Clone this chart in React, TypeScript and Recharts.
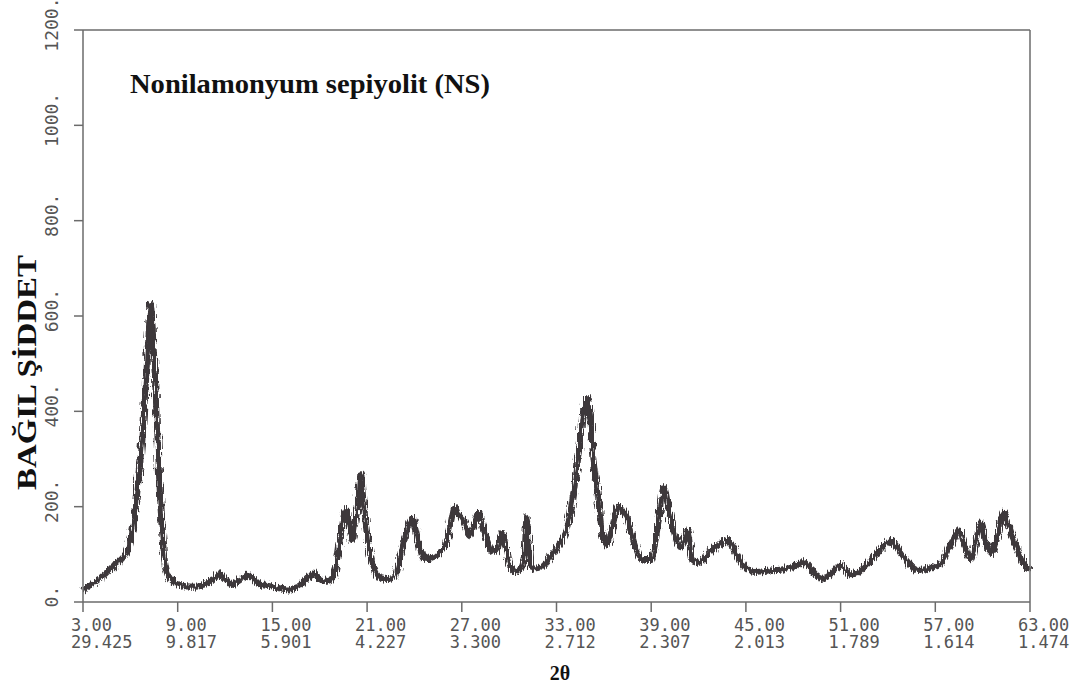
import { Line, LineChart, XAxis, YAxis } from "recharts";

// 2θ positions (deg) and relative intensity
const twoTheta = [
  3.0, 3.5, 4.0, 4.5, 5.0, 5.5, 5.9, 6.2, 6.5, 6.8, 7.05, 7.2, 7.3, 7.4, 7.6,
  7.8, 8.0, 8.2, 8.5, 9.0, 9.5, 10.0, 10.6, 11.2, 11.7, 12.0, 12.4, 12.9, 13.4,
  13.8, 14.2, 15.0, 15.6, 16.1, 16.6, 17.0, 17.4, 17.6, 17.9, 18.2, 18.6, 18.9,
  19.1, 19.3, 19.55, 19.7, 19.85, 20.05, 20.25, 20.45, 20.6, 20.75, 20.9, 21.2,
  21.5, 21.8, 22.3, 22.7, 23.0, 23.3, 23.6, 23.85, 24.1, 24.3, 24.6, 25.0, 25.5,
  26.0, 26.3, 26.55, 26.75, 27.0, 27.3, 27.5, 27.8, 28.05, 28.3, 28.6, 29.0,
  29.3, 29.55, 29.75, 29.95, 30.4, 30.8, 31.0, 31.1, 31.25, 31.4, 32.0, 32.6,
  33.2, 33.7, 34.1, 34.4, 34.7, 34.95, 35.15, 35.3, 35.6, 35.9, 36.2, 36.5,
  36.9, 37.2, 37.5, 37.9, 38.5, 39.0, 39.4, 39.8, 40.2, 40.85, 41.1, 41.3,
  41.6, 42.0, 42.7, 43.3, 43.8, 44.5, 45.0, 45.5, 46.2, 46.8, 47.3, 47.8, 48.3,
  48.65, 49.3, 49.85, 50.5, 51.0, 51.6, 52.0, 52.5, 53.35, 53.8, 54.2, 54.6,
  55.0, 55.9, 56.7, 57.35, 58.0, 58.5, 58.9, 59.25, 59.55, 59.9, 60.3, 60.6,
  60.95, 61.3, 61.8, 62.3, 62.9, 63.0,
];
const intensity = [
  25, 35, 48, 62, 78, 92, 115, 160, 250, 360, 500, 585, 625, 580, 440,
  280, 150, 85, 50, 38, 33, 32, 35, 46, 58, 50, 38, 45, 55,
  48, 37, 32, 28, 26, 32, 42, 56, 60, 52, 44, 45, 55,
  90, 135, 185, 193, 165, 130, 165, 215, 270, 220, 170, 100,
  65, 52, 48, 52, 80, 120, 160, 175, 150, 120, 90, 92, 100,
  125, 165, 200, 185, 175, 155, 140, 165, 185, 165, 130, 105,
  115, 145, 120, 88, 63, 75, 120, 178, 120, 70, 72, 95,
  122, 160, 235, 313, 395, 428, 380, 315, 230, 145, 120, 152,
  200, 190, 175, 125, 88, 88, 155, 240, 180, 115, 130, 150,
  90, 82, 105, 120, 130, 95, 72, 63, 65, 67, 68, 72, 78,
  84, 60, 48, 63, 78, 58, 60, 73, 103, 120, 128, 115,
  95, 67, 71, 80, 122, 150, 115, 88, 125, 165, 115, 103,
  138, 187, 145, 103, 71, 75,
];

const xTicks = [3, 9, 15, 21, 27, 33, 39, 45, 51, 57, 63];
const dSpacing = [
  "29.425", "9.817", "5.901", "4.227", "3.300", "2.712",
  "2.307", "2.013", "1.789", "1.614", "1.474",
];
const yTicks = [0, 200, 400, 600, 800, 1000, 1200];

const data = twoTheta.map((t, i) => ({ t, y: intensity[i] }));

const W = 1087;
const H = 693;
const FRAME = "#6b6b6b";
const INK = "#3c373a";
const TICK_TEXT = "#555";
const MONO = "'DejaVu Sans Mono', 'Liberation Mono', monospace";
const SERIF = "'Liberation Serif', 'Times New Roman', serif";
const CHAR_W = 18 * 0.602;

// 2θ on the first line, d-spacing (Å) right under it
function BottomTick({ x, y, payload }: any) {
  const i = xTicks.indexOf(payload.value);
  return (
    <text fill={TICK_TEXT} fontFamily={MONO} fontSize={17}>
      <tspan x={x - 12} y={y + 19}>{payload.value.toFixed(2)}</tspan>
      <tspan x={x - 12} y={y + 36}>{dSpacing[i]}</tspan>
    </text>
  );
}

function LeftTick({ x, y, payload }: any) {
  const num = String(payload.value);
  const bx = x - 16;
  const by = y + (num.length * CHAR_W) / 2;
  return (
    <text
      x={bx}
      y={by}
      transform={`rotate(-90 ${bx} ${by})`}
      fill={TICK_TEXT}
      fontFamily={MONO}
      fontSize={18}
    >
      {num}.
    </text>
  );
}

export default function App() {
  return (
    <div style={{ position: "absolute", left: 0, top: 0, width: W, height: H, background: "#fff" }}>
      <svg width={0} height={0} style={{ position: "absolute" }}>
        <defs>
          {/* counting-noise texture for the diffractogram trace */}
          <filter id="grain" x="-2%" y="-10%" width="104%" height="120%">
            <feTurbulence type="fractalNoise" baseFrequency="0.9 0.12" numOctaves={1} seed={4} result="n" />
            <feDisplacementMap in="SourceGraphic" in2="n" scale={10} xChannelSelector="R" yChannelSelector="G" />
          </filter>
        </defs>
      </svg>
      <LineChart
        width={W}
        height={H}
        data={data}
        margin={{ top: 20, right: 47, bottom: 31, left: 23 }}
      >
        <XAxis
          xAxisId="b"
          dataKey="t"
          type="number"
          domain={[3, 63]}
          ticks={xTicks}
          height={60}
          tickSize={10}
          tickMargin={0}
          axisLine={{ stroke: FRAME, strokeWidth: 1.5 }}
          tickLine={{ stroke: FRAME, strokeWidth: 1.5 }}
          tick={<BottomTick />}
          interval={0}
        />
        <XAxis
          xAxisId="t"
          orientation="top"
          dataKey="t"
          type="number"
          domain={[3, 63]}
          ticks={xTicks}
          height={10}
          tickSize={-7}
          axisLine={{ stroke: FRAME, strokeWidth: 1.5 }}
          tickLine={{ stroke: FRAME, strokeWidth: 1.5 }}
          tick={false}
          interval={0}
        />
        <YAxis
          yAxisId="l"
          type="number"
          domain={[0, 1200]}
          ticks={yTicks}
          width={60}
          tickSize={9}
          tickMargin={0}
          axisLine={{ stroke: FRAME, strokeWidth: 1.5 }}
          tickLine={{ stroke: FRAME, strokeWidth: 1.5 }}
          tick={<LeftTick />}
          interval={0}
        />
        <YAxis
          yAxisId="r"
          orientation="right"
          type="number"
          domain={[0, 1200]}
          ticks={yTicks}
          width={10}
          tickSize={-7}
          axisLine={{ stroke: FRAME, strokeWidth: 1.5 }}
          tickLine={{ stroke: FRAME, strokeWidth: 1.5 }}
          tick={false}
          interval={0}
        />
        <Line
          xAxisId="b"
          yAxisId="l"
          type="monotone"
          dataKey="y"
          stroke={INK}
          strokeWidth={6}
          strokeLinejoin="round"
          filter="url(#grain)"
          dot={false}
          isAnimationActive={false}
        />
      </LineChart>
      <svg
        width={W}
        height={H}
        style={{ position: "absolute", left: 0, top: 0, pointerEvents: "none" }}
      >
        <text
          x={130}
          y={93}
          fontFamily={SERIF}
          fontWeight="bold"
          fontSize={28}
          textLength={360}
          lengthAdjust="spacingAndGlyphs"
          fill="#111"
        >
          Nonilamonyum sepiyolit (NS)
        </text>
        <text
          x={36}
          y={490}
          transform="rotate(-90 36 490)"
          fontFamily={SERIF}
          fontWeight="bold"
          fontSize={27}
          textLength={235}
          lengthAdjust="spacingAndGlyphs"
          fill="#111"
        >
          BAĞIL ŞİDDET
        </text>
        <text
          x={560}
          y={680}
          textAnchor="middle"
          fontFamily={SERIF}
          fontWeight="bold"
          fontSize={20}
          fill="#111"
        >
          2θ
        </text>
      </svg>
    </div>
  );
}
